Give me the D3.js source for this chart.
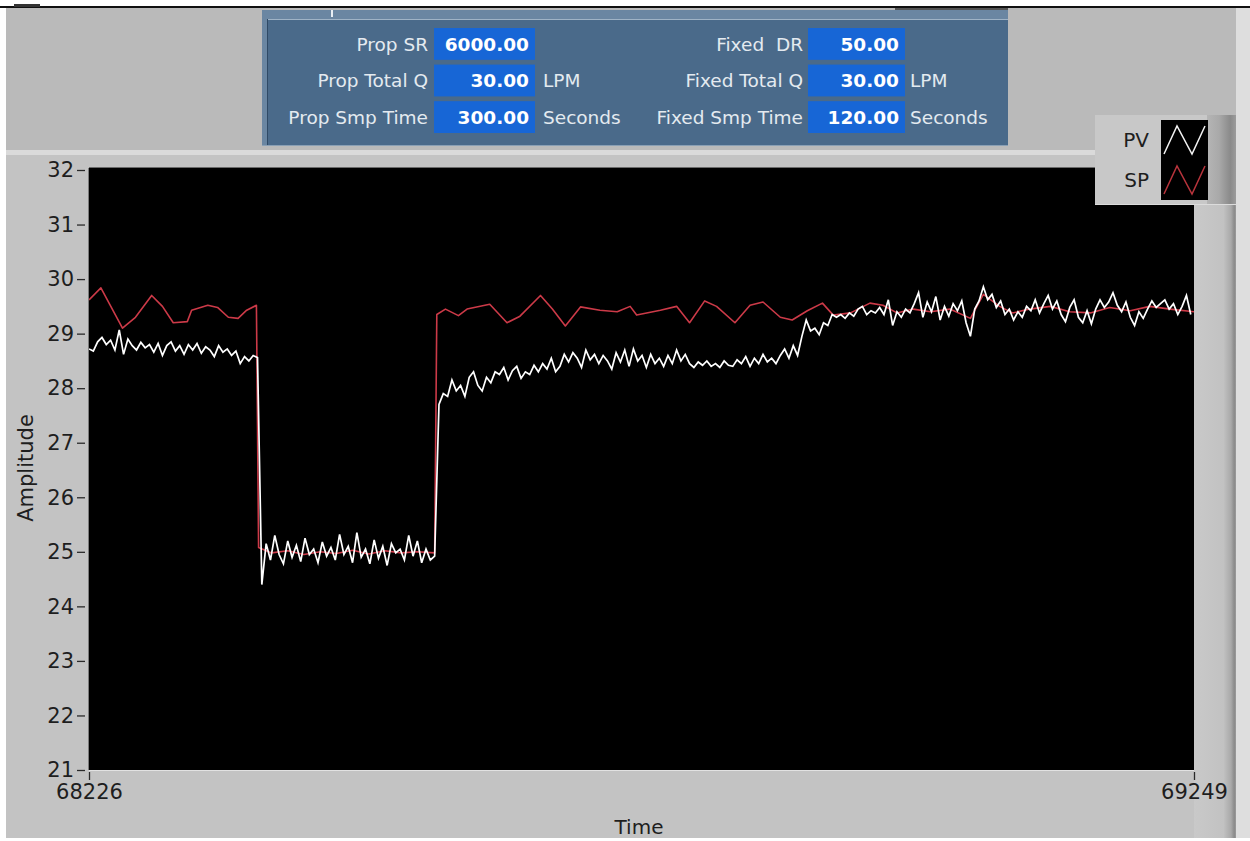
<!DOCTYPE html>
<html>
<head>
<meta charset="utf-8">
<script src="https://cdn.jsdelivr.net/npm/d3@7"></script>
<style>
  html, body { margin: 0; padding: 0; background: #ffffff; }
  svg { display: block; }
  text { font-family: "DejaVu Sans", "Liberation Sans", sans-serif; }
</style>
</head>
<body>
<svg id="chart" width="1250" height="841"></svg>
<script>
// ---- data ----------------------------------------------------------------
const timeDomain = [68226, 69249];
const xTickValues = [68226, 69249];
const yTickValues = [21, 22, 23, 24, 25, 26, 27, 28, 29, 30, 31, 32];

// PV: sampled every 4 time units starting at 68226
const pvStart = 68226;
const pvStep = 4;
const pvValues = [
  28.72, 28.68, 28.85, 28.93, 28.80, 28.88, 28.70, 29.07, 28.62, 28.90,
  28.78, 28.70, 28.84, 28.74, 28.80, 28.66, 28.82, 28.60, 28.78, 28.85,
  28.68, 28.78, 28.62, 28.80, 28.70, 28.82, 28.64, 28.76, 28.70, 28.58,
  28.78, 28.66, 28.72, 28.60, 28.68, 28.45, 28.58, 28.50, 28.60, 28.56,
  24.40, 25.15, 24.85, 25.30, 24.95, 24.78, 25.20, 24.90, 25.12, 24.82,
  25.25, 24.95, 25.05, 24.80, 25.18, 24.92, 25.08, 24.85, 25.32, 24.95,
  25.10, 24.80, 25.35, 24.90, 25.05, 24.78, 25.22, 24.88, 25.10, 24.75,
  25.15, 24.98, 25.05, 24.85, 25.30, 24.92, 25.20, 24.80, 25.05, 24.85,
  24.92, 27.70, 27.90, 27.85, 28.15, 27.95, 28.05, 27.85, 28.20, 28.30,
  28.05, 27.95, 28.20, 28.10, 28.30, 28.25, 28.38, 28.15, 28.32, 28.40,
  28.18, 28.30, 28.25, 28.42, 28.30, 28.45, 28.35, 28.55, 28.30, 28.40,
  28.62, 28.48, 28.65, 28.55, 28.38, 28.70, 28.52, 28.62, 28.45, 28.60,
  28.50, 28.35, 28.65, 28.48, 28.70, 28.40, 28.72, 28.50, 28.60, 28.38,
  28.62, 28.45, 28.55, 28.40, 28.60, 28.45, 28.70, 28.50, 28.62, 28.45,
  28.38, 28.48, 28.42, 28.50, 28.40, 28.45, 28.38, 28.50, 28.42, 28.40,
  28.52, 28.45, 28.58, 28.40, 28.55, 28.45, 28.62, 28.48, 28.55, 28.45,
  28.60, 28.72, 28.55, 28.78, 28.60, 28.95, 29.25, 29.05, 29.10, 28.98,
  29.20, 29.15, 29.35, 29.30, 29.35, 29.28, 29.38, 29.32, 29.45, 29.50,
  29.35, 29.42, 29.38, 29.48, 29.35, 29.62, 29.15, 29.40, 29.30, 29.45,
  29.38, 29.55, 29.75, 29.30, 29.58, 29.40, 29.68, 29.25, 29.50, 29.32,
  29.55, 29.42, 29.60, 29.20, 28.95, 29.45, 29.60, 29.86, 29.62, 29.72,
  29.48, 29.60, 29.35, 29.45, 29.25, 29.40, 29.30, 29.50, 29.42, 29.62,
  29.38, 29.55, 29.70, 29.45, 29.60, 29.35, 29.22, 29.48, 29.62, 29.30,
  29.20, 29.42, 29.18, 29.45, 29.62, 29.48, 29.58, 29.75, 29.52, 29.40,
  29.58, 29.30, 29.15, 29.40, 29.28, 29.45, 29.60, 29.48, 29.55, 29.62,
  29.45, 29.55, 29.35, 29.50, 29.70, 29.35
];

// SP: set point trace
const spTimes = [
  68226, 68237, 68257, 68269, 68284, 68294, 68304, 68317, 68321, 68336,
  68345, 68355, 68364, 68372, 68381, 68383, 68395, 68410, 68425, 68440,
  68455, 68470, 68485, 68500, 68515, 68530, 68546, 68548, 68556, 68568,
  68576, 68597, 68613, 68625, 68644, 68655, 68667, 68681, 68699, 68715,
  68727, 68733, 68755, 68770, 68782, 68796, 68807, 68824, 68838, 68850,
  68866, 68877, 68891, 68905, 68915, 68931, 68949, 68961, 68974, 68989,
  69005, 69023, 69042, 69054, 69069, 69081, 69097, 69116, 69134, 69153,
  69171, 69190, 69208, 69227, 69249
];
const spValues = [
  29.62, 29.84, 29.10, 29.30, 29.70, 29.50, 29.20, 29.22, 29.43, 29.52,
  29.48, 29.30, 29.28, 29.43, 29.52, 25.08, 24.98, 25.02, 24.95, 25.00,
  24.97, 25.03, 24.96, 25.02, 24.98, 25.00, 24.98, 29.35, 29.45, 29.33,
  29.45, 29.54, 29.20, 29.32, 29.70, 29.45, 29.14, 29.49, 29.43, 29.40,
  29.50, 29.34, 29.43, 29.50, 29.20, 29.60, 29.50, 29.20, 29.52, 29.58,
  29.30, 29.25, 29.42, 29.56, 29.34, 29.38, 29.56, 29.52, 29.38, 29.45,
  29.40, 29.45, 29.28, 29.72, 29.50, 29.38, 29.45, 29.50, 29.40, 29.38,
  29.48, 29.42, 29.50, 29.45, 29.40
];

const seriesNames = ["PV", "SP"];
const seriesColors = ["#ffffff", "#cc3a48"];

// control panel fields: [label, value, unit]
const propLabels = ["Prop SR", "Prop Total Q", "Prop Smp Time"];
const propValues = ["6000.00", "30.00", "300.00"];
const propUnits = ["", "LPM", "Seconds"];
const fixedLabels = ["Fixed\u00a0\u00a0DR", "Fixed Total Q", "Fixed Smp Time"];
const fixedValues = ["50.00", "30.00", "120.00"];
const fixedUnits = ["", "LPM", "Seconds"];

// ---- drawing -------------------------------------------------------------
const svg = d3.select("#chart");
const W = 1250, H = 841;
const plot = { left: 89, top: 168, right: 1194, bottom: 770 };

const defs = svg.append("defs");
const barGrad = defs.append("linearGradient").attr("id", "barGrad")
  .attr("x1", "0%").attr("x2", "100%");
barGrad.append("stop").attr("offset", "0%").attr("stop-color", "#c9c9c9");
barGrad.append("stop").attr("offset", "70%").attr("stop-color", "#c2c2c2");
barGrad.append("stop").attr("offset", "88%").attr("stop-color", "#a9a9a9");
barGrad.append("stop").attr("offset", "96%").attr("stop-color", "#8a8a8a");
barGrad.append("stop").attr("offset", "100%").attr("stop-color", "#9c9c9c");

// window background
svg.append("rect").attr("width", W).attr("height", H).attr("fill", "#ffffff");
svg.append("rect").attr("x", 6).attr("y", 8).attr("width", W - 6).attr("height", 830)
  .attr("fill", "#c3c3c3");
svg.append("rect").attr("x", 6).attr("y", 8).attr("width", W - 6).attr("height", 142)
  .attr("fill", "#bababa");
svg.append("rect").attr("x", 6).attr("y", 150).attr("width", W - 6).attr("height", 5)
  .attr("fill", "#dadada");
svg.append("rect").attr("x", 0).attr("y", 6).attr("width", W).attr("height", 2)
  .attr("fill", "#111111");
svg.append("rect").attr("x", 14).attr("y", 4).attr("width", 26).attr("height", 3)
  .attr("fill", "#333333");
svg.append("rect").attr("x", 895).attr("y", 8).attr("width", 113).attr("height", 2)
  .attr("fill", "#555555");

// right-hand scroll strip
svg.append("rect").attr("x", 1194).attr("y", 115).attr("width", 42).attr("height", 723)
  .attr("fill", "url(#barGrad)");
svg.append("rect").attr("x", 1236).attr("y", 8).attr("width", 14).attr("height", 830)
  .attr("fill", "#dedede");

// ---- control panel ----
const panel = svg.append("g");
panel.append("rect").attr("x", 262).attr("y", 10).attr("width", 746).attr("height", 136)
  .attr("fill", "#6a86a2");
panel.append("rect").attr("x", 267).attr("y", 19).attr("width", 741).attr("height", 127)
  .attr("fill", "#4a6a8a");
panel.append("line").attr("x1", 267).attr("x2", 1008).attr("y1", 19.5).attr("y2", 19.5)
  .attr("stroke", "#9fb3c6").attr("stroke-width", 1);
panel.append("line").attr("x1", 267.5).attr("x2", 267.5).attr("y1", 19).attr("y2", 146)
  .attr("stroke", "#2f4a66").attr("stroke-width", 1);
panel.append("line").attr("x1", 262).attr("x2", 1008).attr("y1", 145.5).attr("y2", 145.5)
  .attr("stroke", "#8aa0b5").attr("stroke-width", 1);
panel.append("rect").attr("x", 331).attr("y", 10).attr("width", 2).attr("height", 7)
  .attr("fill", "#e8eef4");

const rowY = d3.scaleBand().domain(d3.range(3)).range([28, 133]).paddingInner(0.13);

function drawColumn(labels, values, units, labelX, boxX, boxW, unitX) {
  const g = panel.append("g");
  const rows = g.selectAll("g").data(d3.range(labels.length)).join("g")
    .attr("transform", i => `translate(0,${rowY(i)})`);
  const bh = rowY.bandwidth();
  rows.append("rect").attr("x", boxX).attr("y", 0).attr("width", boxW).attr("height", bh)
    .attr("fill", "#1766d6");
  rows.append("text").attr("x", labelX).attr("y", bh / 2).attr("dy", "0.36em")
    .attr("text-anchor", "end").attr("font-size", 18.5).attr("fill", "#e4eaf0")
    .text(i => labels[i]);
  rows.append("text").attr("x", boxX + boxW - 6).attr("y", bh / 2).attr("dy", "0.36em")
    .attr("text-anchor", "end").attr("font-size", 18.5).attr("font-weight", "bold")
    .attr("fill", "#ffffff").text(i => values[i]);
  rows.append("text").attr("x", unitX).attr("y", bh / 2).attr("dy", "0.36em")
    .attr("font-size", 18.5).attr("fill", "#e4eaf0").text(i => units[i]);
}
drawColumn(propLabels, propValues, propUnits, 428, 434, 101, 543);
drawColumn(fixedLabels, fixedValues, fixedUnits, 803, 808, 97, 910);

// ---- plot ----
const x = d3.scaleLinear().domain(timeDomain).range([plot.left, plot.right]);
const y = d3.scaleLinear().domain([21, 32]).range([plot.bottom, plot.top + 2]);

svg.append("rect").attr("x", plot.left).attr("y", plot.top)
  .attr("width", plot.right - plot.left).attr("height", plot.bottom - plot.top)
  .attr("fill", "#000000");
svg.append("line").attr("x1", plot.left - 0.5).attr("x2", plot.left - 0.5)
  .attr("y1", plot.top).attr("y2", plot.bottom).attr("stroke", "#7c7c7c");
svg.append("line").attr("x1", plot.left).attr("x2", plot.right)
  .attr("y1", plot.top - 0.5).attr("y2", plot.top - 0.5).attr("stroke", "#6a6a6a");
svg.append("line").attr("x1", plot.left).attr("x2", plot.right)
  .attr("y1", plot.bottom + 0.5).attr("y2", plot.bottom + 0.5).attr("stroke", "#e2e2e2");

svg.append("clipPath").attr("id", "plotClip").append("rect")
  .attr("x", plot.left).attr("y", plot.top)
  .attr("width", plot.right - plot.left).attr("height", plot.bottom - plot.top);

const pvData = pvValues.map((v, i) => [pvStart + i * pvStep, v]);
const spData = spTimes.map((t, i) => [t, spValues[i]]);

const line = d3.line().x(d => x(d[0])).y(d => y(d[1]));
const traces = svg.append("g").attr("clip-path", "url(#plotClip)");
traces.append("path").datum(spData).attr("d", line)
  .attr("fill", "none").attr("stroke", seriesColors[1]).attr("stroke-width", 1.6)
  .attr("stroke-linejoin", "round");
traces.append("path").datum(pvData).attr("d", line)
  .attr("fill", "none").attr("stroke", seriesColors[0]).attr("stroke-width", 1.7)
  .attr("stroke-linejoin", "miter");

// axes
const yAxis = d3.axisLeft(y).tickValues(yTickValues).tickFormat(d3.format("d"))
  .tickSize(8).tickPadding(3);
const gy = svg.append("g").attr("transform", `translate(85,0)`).call(yAxis);
gy.select(".domain").remove();
gy.selectAll(".tick line").attr("stroke", "#2a2a2a").attr("stroke-width", 1.3);
gy.selectAll(".tick text").attr("font-size", 21).attr("fill", "#1e1e1e")
  .attr("font-family", "DejaVu Sans, sans-serif");

const xAxis = d3.axisBottom(x).tickValues(xTickValues).tickFormat(d3.format("d"))
  .tickSize(8).tickPadding(4);
const gx = svg.append("g").attr("transform", `translate(0,${plot.bottom + 2})`).call(xAxis);
gx.select(".domain").remove();
gx.selectAll(".tick line").attr("stroke", "#2a2a2a").attr("stroke-width", 1.3);
gx.selectAll(".tick text").attr("font-size", 21).attr("fill", "#1e1e1e")
  .attr("font-family", "DejaVu Sans, sans-serif");

svg.append("text").attr("transform", "translate(33,468) rotate(-90)")
  .attr("text-anchor", "middle").attr("font-size", 21).attr("fill", "#1e1e1e")
  .text("Amplitude");
svg.append("text").attr("x", 639).attr("y", 834)
  .attr("text-anchor", "middle").attr("font-size", 20).attr("fill", "#1e1e1e")
  .text("Time");

// ---- legend ----
const legend = svg.append("g");
legend.append("rect").attr("x", 1095).attr("y", 115).attr("width", 141).attr("height", 90)
  .attr("fill", "url(#barGrad)");
legend.append("rect").attr("x", 1095).attr("y", 115).attr("width", 112).attr("height", 90)
  .attr("fill", "#c8c8c8");
legend.append("line").attr("x1", 1095).attr("x2", 1236).attr("y1", 204.5).attr("y2", 204.5)
  .attr("stroke", "#dcdcdc");
legend.append("rect").attr("x", 1161).attr("y", 120).attr("width", 47).attr("height", 80)
  .attr("fill", "#000000");

const legY = d3.scaleBand().domain(seriesNames).range([120, 200]);
const legColors = ["#f2f2f2", "#b8343c"];
const zig = d3.line();
seriesNames.forEach((name, i) => {
  const top = legY(name) + 6, bot = legY(name) + legY.bandwidth() - 6;
  legend.append("text").attr("x", 1149).attr("y", legY(name) + legY.bandwidth() / 2)
    .attr("dy", "0.36em").attr("text-anchor", "end").attr("font-size", 20)
    .attr("fill", "#1e1e1e").text(name);
  legend.append("path")
    .attr("d", zig([[1164, bot], [1177, top], [1192, bot], [1205, top]]))
    .attr("fill", "none").attr("stroke", legColors[i]).attr("stroke-width", 1.5);
});
</script>
</body>
</html>
